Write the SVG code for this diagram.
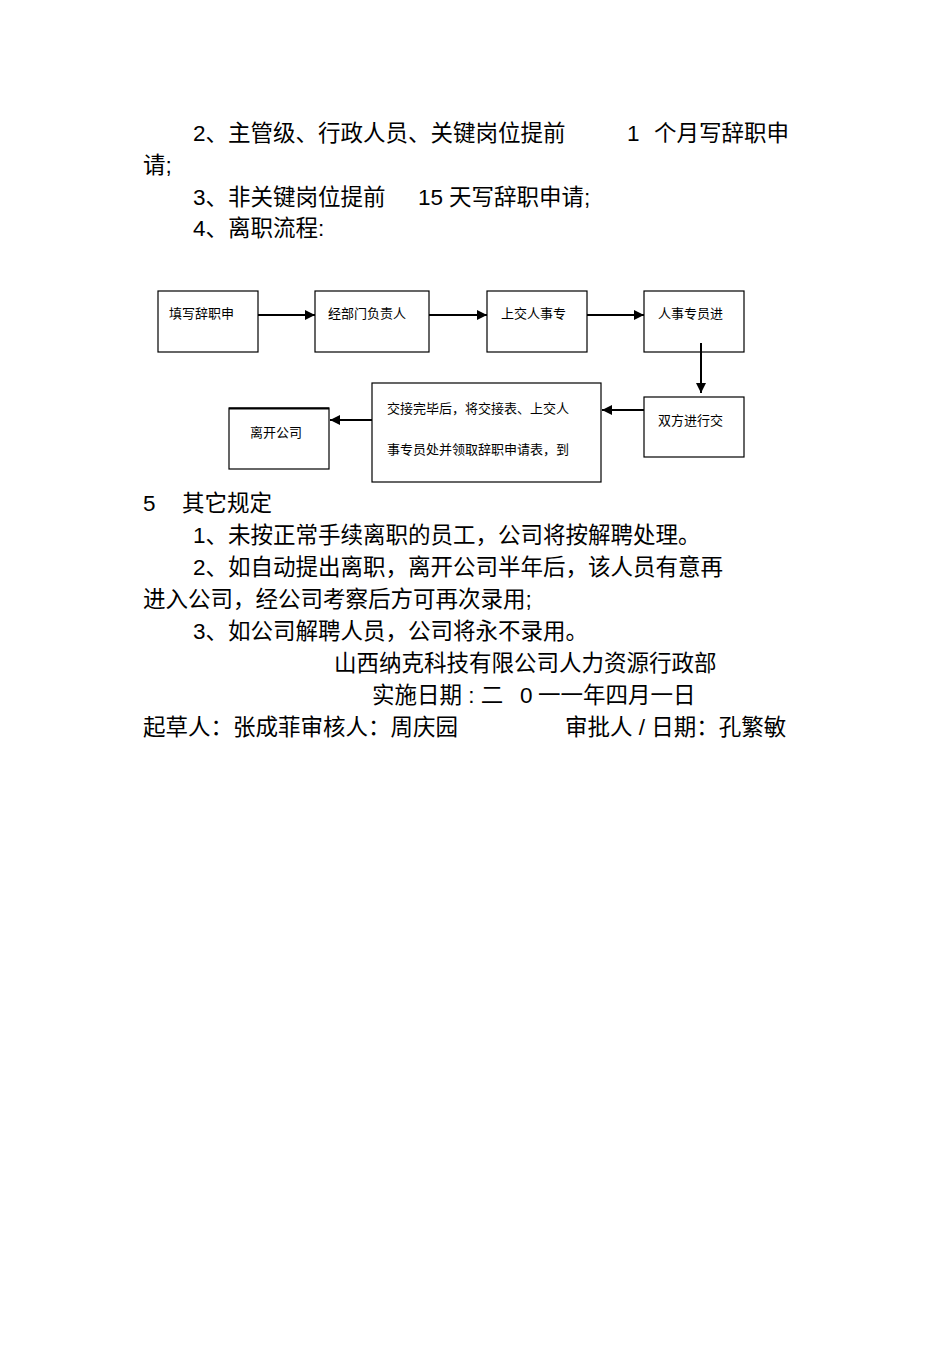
<svg xmlns="http://www.w3.org/2000/svg" width="950" height="1345" viewBox="0 0 950 1345">
<style>
.t{font-family:"Liberation Sans","Noto Sans CJK SC",sans-serif;font-size:22.5px;fill:#000}
.s{font-family:"Liberation Sans","Noto Sans CJK SC",sans-serif;font-size:13px;fill:#000}
.b{fill:#fff;stroke:#000;stroke-width:1.2}
.c{stroke:#000;stroke-width:2;fill:none;marker-end:url(#a)}
</style>
<defs><marker id="a" viewBox="0 0 10 10" refX="10" refY="5" markerWidth="5" markerHeight="5" orient="auto"><path d="M0,0L10,5L0,10z" fill="#000"/></marker></defs>
<rect width="950" height="1345" fill="#fff"/>
<g id="text">
<text class="t" x="193" y="141">2、主管级、行政人员、关键岗位提前</text>
<text class="t" x="627" y="141">1</text>
<text class="t" x="654" y="141">个月写辞职申</text>
<text class="t" x="143" y="173">请;</text>
<text class="t" x="193" y="205">3、非关键岗位提前</text>
<text class="t" x="418" y="205">15</text>
<text class="t" x="449" y="205">天写辞职申请;</text>
<text class="t" x="193" y="236">4、离职流程:</text>
<text class="t" x="143" y="511">5</text>
<text class="t" x="182" y="511">其它规定</text>
<text class="t" x="193" y="543">1、未按正常手续离职的员工，公司将按解聘处理。</text>
<text class="t" x="193" y="575">2、如自动提出离职，离开公司半年后，该人员有意再</text>
<text class="t" x="143" y="607">进入公司，经公司考察后方可再次录用;</text>
<text class="t" x="193" y="639">3、如公司解聘人员，公司将永不录用。</text>
<text class="t" x="334" y="671">山西纳克科技有限公司人力资源行政部</text>
<text class="t" x="372" y="703">实施日期 : 二</text>
<text class="t" x="520" y="703">0</text>
<text class="t" x="538" y="703">一一年四月一日</text>
<text class="t" x="143" y="735">起草人：张成菲审核人：周庆园</text>
<text class="t" x="565" y="735">审批人 / 日期：孔繁敏</text>
</g>
<g id="n1"><rect class="b" x="158" y="291" width="100" height="61"/><text class="s" x="169" y="318">填写辞职申</text></g>
<g id="n2"><rect class="b" x="315" y="291" width="114" height="61"/><text class="s" x="328" y="318">经部门负责人</text></g>
<g id="n3"><rect class="b" x="487" y="291" width="100" height="61"/><text class="s" x="501" y="318">上交人事专</text></g>
<g id="n4"><rect class="b" x="644" y="291" width="100" height="61"/><text class="s" x="658" y="318">人事专员进</text></g>
<g id="n5"><rect class="b" x="644" y="397" width="100" height="60"/><text class="s" x="658" y="425">双方进行交</text></g>
<g id="n6"><rect class="b" x="372" y="383" width="229" height="99"/><text class="s" x="387" y="413">交接完毕后，将交接表、上交人</text><text class="s" x="387" y="454">事专员处并领取辞职申请表，到</text></g>
<g id="n7"><rect class="b" x="229" y="408" width="100" height="61"/><line x1="229" y1="408.5" x2="329" y2="408.5" stroke="#000" stroke-width="2"/><text class="s" x="250" y="437">离开公司</text></g>
<g id="connectors">
<line class="c" x1="258" y1="315" x2="315" y2="315"/>
<line class="c" x1="429" y1="315" x2="487" y2="315"/>
<line class="c" x1="587" y1="315" x2="644" y2="315"/>
<line class="c" x1="701" y1="343" x2="701" y2="393"/>
<line class="c" x1="644" y1="410" x2="602" y2="410"/>
<line class="c" x1="372" y1="420" x2="330" y2="420"/>
</g>
</svg>
